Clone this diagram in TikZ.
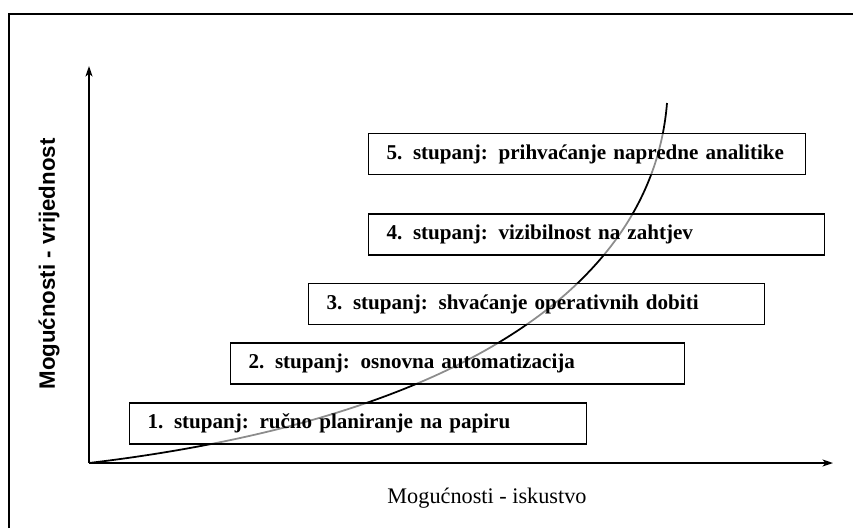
\documentclass[tikz,border=0pt]{standalone}
\usepackage{fontspec}
\setmainfont{Liberation Serif}
\setsansfont{Liberation Sans}
\usepackage{tikz}
\usetikzlibrary{arrows.meta}

\tikzset{stage/.style={draw, line width=1.1pt, fill=white, fill opacity=.55, text opacity=1,
    anchor=west, minimum height=1.23cm, inner xsep=0.54cm, align=left,
    font=\bfseries\fontsize{18}{21}\selectfont}}

\begin{document}
\begin{tikzpicture}[x=0.03cm,y=-0.03cm,thick,>={Stealth[length=9pt,width=6pt,inset=2.5pt]}]
          \useasboundingbox (0,0) rectangle (853,528);
          \draw[line width=1.6pt] (9,528) -- (9,14) -- (853,14);
          \coordinate (O) at (89,463);
          \coordinate (ytop) at (89,66);
          \coordinate (xend) at (833,463);
          \draw[->,line width=1.2pt] (O) -- (ytop);
          \draw[->,line width=1.2pt] (O) -- (xend);
          \draw[line width=1.5pt] (O) .. controls (450,420) and (652,290) .. (667,103);
          \node[stage,text width=12.63cm] (s1) at (129,423.5) {1. stupanj: ručno planiranje na papiru};
          \node[stage,text width=12.54cm] (s2) at (230,363.5) {2. stupanj: osnovna automatizacija};
          \node[stage,text width=12.6cm] (s3) at (308,304) {3. stupanj: shvaćanje operativnih dobiti};
          \node[stage,text width=12.6cm] (s4) at (368,234.5) {4. stupanj: vizibilnost na zahtjev};
          \node[stage,text width=12.03cm] (s5) at (368,154) {5. stupanj: prihvaćanje napredne analitike};
          \node[font=\fontsize{19}{22}\selectfont] (xlab) at (487,498) {Mogućnosti - iskustvo};
          \node[rotate=90,font=\sffamily\bfseries\fontsize{19}{22}\selectfont] (ylab) at (49,264) {Mogućnosti - vrijednost};
        \end{tikzpicture}
\end{document}
